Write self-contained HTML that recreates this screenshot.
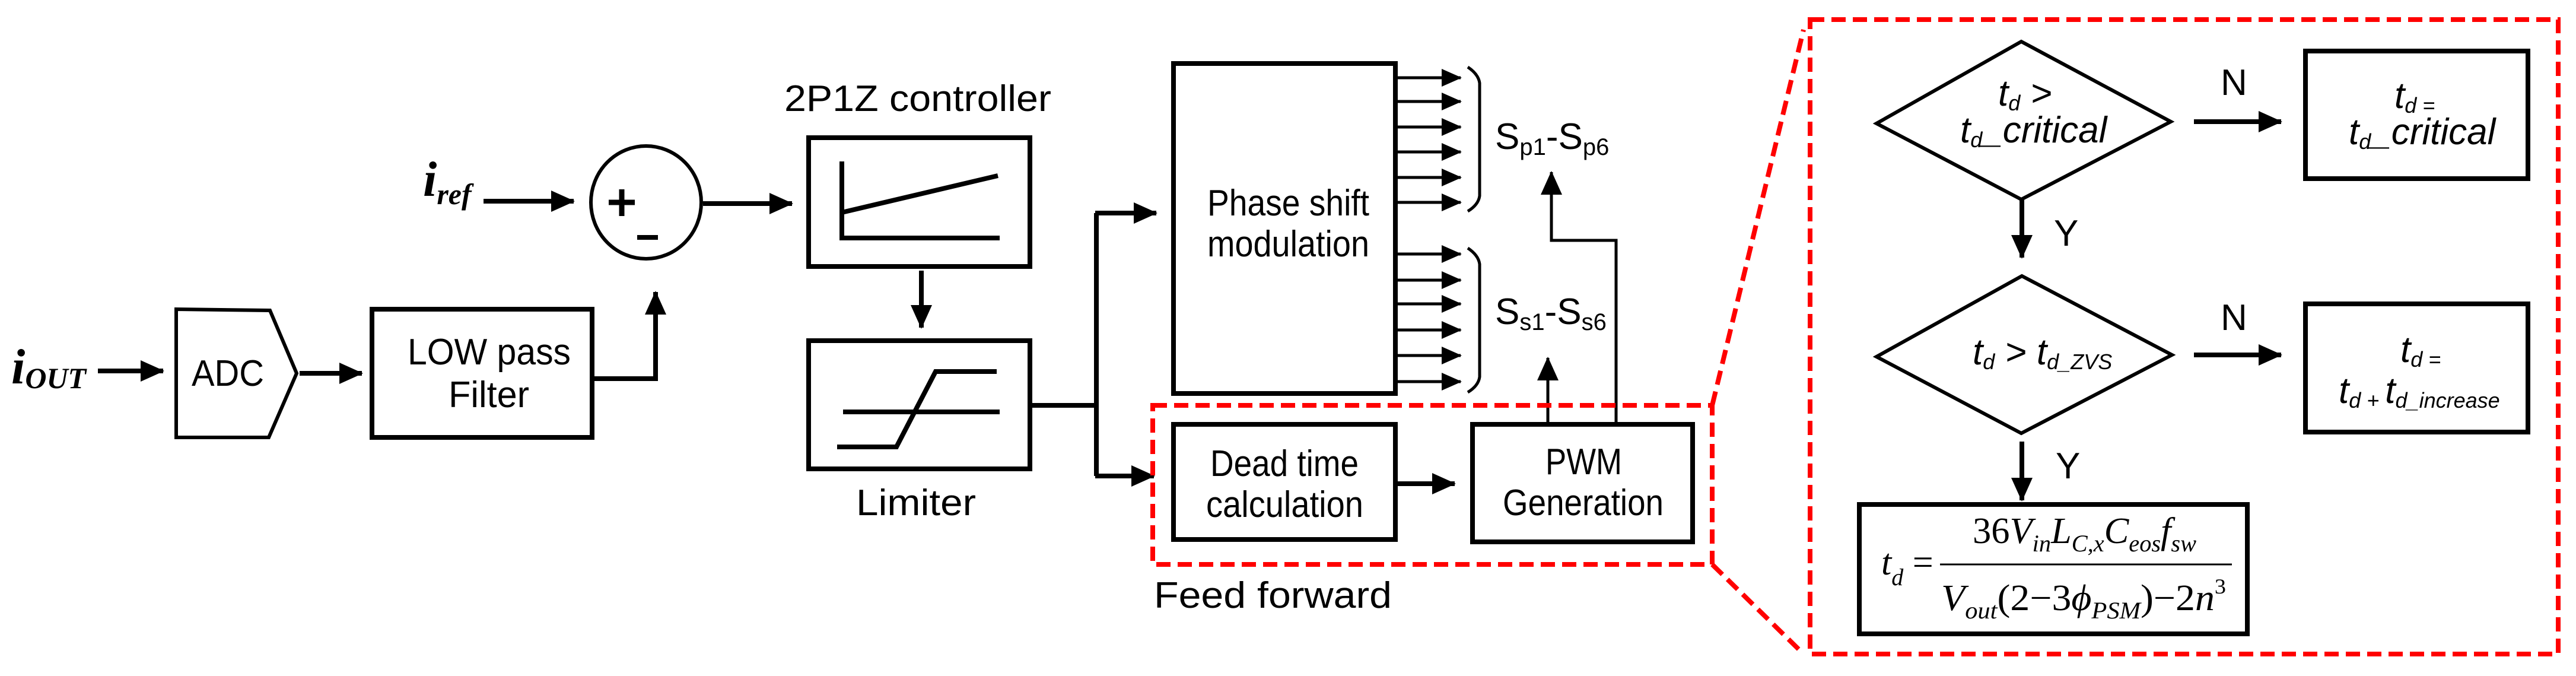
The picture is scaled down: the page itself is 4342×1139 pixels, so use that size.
<!DOCTYPE html>
<html><head><meta charset="utf-8"><style>
html,body{margin:0;padding:0;background:#fff}
svg{display:block}
.s{font-family:"Liberation Sans",sans-serif;font-size:62px;fill:#000}
.m{font-family:"Liberation Serif",serif;font-style:italic;fill:#000}
</style></head><body>
<svg width="4342" height="1139" viewBox="0 0 4342 1139" xmlns="http://www.w3.org/2000/svg">
<defs>
<marker id="a" markerUnits="userSpaceOnUse" markerWidth="40" markerHeight="36" refX="38" refY="18" orient="auto">
<polygon points="0,0 40,18 0,36" fill="#000"/></marker>
<marker id="b" markerUnits="userSpaceOnUse" markerWidth="34" markerHeight="30" refX="32" refY="15" orient="auto">
<polygon points="0,0 34,15 0,30" fill="#000"/></marker>
</defs>
<g stroke="#000" stroke-width="8" fill="none">
<line x1="165" y1="625" x2="275" y2="625" marker-end="url(#a)"/>
<polygon points="297,521 455,523 500,629 453,737 297,737" stroke-width="6"/>
<line x1="505" y1="629" x2="610" y2="629" marker-end="url(#a)"/>
<rect x="627" y="521" width="371" height="216"/>
<polyline points="998,638 1105,638 1105,492" marker-end="url(#a)"/>
<ellipse cx="1089" cy="341" rx="93" ry="95" stroke-width="6"/>
<line x1="815" y1="339" x2="967" y2="339" marker-end="url(#a)"/>
<line x1="1185" y1="343" x2="1335" y2="343" marker-end="url(#a)"/>
<line x1="1026" y1="341" x2="1070" y2="341" stroke-width="9"/>
<line x1="1048" y1="319" x2="1048" y2="364" stroke-width="9"/>
<line x1="1074" y1="400" x2="1109" y2="400" stroke-width="8"/>
<rect x="1363" y="232" width="373" height="217"/>
<polyline points="1419,272 1419,401 1685,401"/>
<line x1="1419" y1="358" x2="1682" y2="296"/>
<line x1="1553" y1="456" x2="1553" y2="552" marker-end="url(#a)"/>
<rect x="1363" y="574" width="373" height="216"/>
<line x1="1421" y1="694" x2="1685" y2="694"/>
<polyline points="1411,753 1511,753 1577,626 1680,626"/>
<line x1="1736" y1="683" x2="1848" y2="683"/>
<line x1="1848" y1="359" x2="1848" y2="802"/>
<line x1="1846" y1="359" x2="1949" y2="359" marker-end="url(#a)"/>
<line x1="1846" y1="802" x2="1945" y2="802" marker-end="url(#a)"/>
<rect x="1978" y="107" width="374" height="556"/>
<g stroke-width="5">
<line x1="2352" y1="131" x2="2462" y2="131" marker-end="url(#b)"/>
<line x1="2352" y1="171" x2="2462" y2="171" marker-end="url(#b)"/>
<line x1="2352" y1="214" x2="2462" y2="214" marker-end="url(#b)"/>
<line x1="2352" y1="256" x2="2462" y2="256" marker-end="url(#b)"/>
<line x1="2352" y1="299" x2="2462" y2="299" marker-end="url(#b)"/>
<line x1="2352" y1="341" x2="2462" y2="341" marker-end="url(#b)"/>
<line x1="2352" y1="428" x2="2462" y2="428" marker-end="url(#b)"/>
<line x1="2352" y1="472" x2="2462" y2="472" marker-end="url(#b)"/>
<line x1="2352" y1="512" x2="2462" y2="512" marker-end="url(#b)"/>
<line x1="2352" y1="556" x2="2462" y2="556" marker-end="url(#b)"/>
<line x1="2352" y1="599" x2="2462" y2="599" marker-end="url(#b)"/>
<line x1="2352" y1="643" x2="2462" y2="643" marker-end="url(#b)"/>
<path d="M2474,113 Q2492,125 2494,140 L2494,330 Q2492,345 2474,356"/>
<path d="M2474,418 Q2492,430 2494,445 L2494,635 Q2492,650 2474,661"/>
<line x1="2609" y1="715" x2="2609" y2="603" marker-end="url(#a)"/>
<polyline points="2724,715 2724,405 2615,405 2615,290" marker-end="url(#a)"/>
</g>
<rect x="1978" y="715" width="374" height="194"/>
<line x1="2352" y1="815" x2="2452" y2="815" marker-end="url(#a)"/>
<rect x="2482" y="715" width="371" height="198"/>
<g stroke-width="6">
<polygon points="3163,208 3407,70 3659,205 3407,336"/>
<polygon points="3163,601 3408,465 3661,598 3407,730"/>
</g>
<line x1="3698" y1="205" x2="3845" y2="205" marker-end="url(#a)"/>
<line x1="3698" y1="598" x2="3845" y2="598" marker-end="url(#a)"/>
<line x1="3408" y1="336" x2="3408" y2="434" marker-end="url(#a)"/>
<line x1="3408" y1="744" x2="3408" y2="843" marker-end="url(#a)"/>
<rect x="3886" y="86" width="375" height="215"/>
<rect x="3886" y="512" width="375" height="216"/>
<rect x="3134" y="850" width="654" height="218"/>
<line x1="3270" y1="951" x2="3762" y2="951" stroke-width="3"/>
</g>
<g stroke="#f00" stroke-width="8" fill="none" stroke-dasharray="24,12">
<rect x="1943" y="683" width="943" height="268"/>
<rect x="3051" y="33" width="1261" height="1069"/>
<line x1="2886" y1="683" x2="3040" y2="50"/>
<line x1="2886" y1="951" x2="3040" y2="1102"/>
</g>
<text class="m" x="19" y="646" font-size="84" font-weight="bold">i<tspan font-size="50" dy="8">OUT</tspan></text>
<text class="m" x="713" y="330" font-size="84" font-weight="bold">i<tspan font-size="50" dy="14">ref</tspan></text>
<text class="s" x="323" y="650" textLength="122" lengthAdjust="spacingAndGlyphs">ADC</text>
<text class="s" x="687" y="614" textLength="275" lengthAdjust="spacingAndGlyphs">LOW pass</text>
<text class="s" x="756" y="686" textLength="136" lengthAdjust="spacingAndGlyphs">Filter</text>
<text class="s" x="1322" y="187" textLength="450" lengthAdjust="spacingAndGlyphs">2P1Z controller</text>
<text class="s" x="1443" y="868" textLength="202" lengthAdjust="spacingAndGlyphs">Limiter</text>
<text class="s" x="2035" y="363" textLength="273" lengthAdjust="spacingAndGlyphs">Phase shift</text>
<text class="s" x="2035" y="432" textLength="273" lengthAdjust="spacingAndGlyphs">modulation</text>
<text class="s" x="2040" y="802" textLength="250" lengthAdjust="spacingAndGlyphs">Dead time</text>
<text class="s" x="2033" y="871" textLength="265" lengthAdjust="spacingAndGlyphs">calculation</text>
<text class="s" x="2605" y="799" textLength="129" lengthAdjust="spacingAndGlyphs">PWM</text>
<text class="s" x="2533" y="868" textLength="271" lengthAdjust="spacingAndGlyphs">Generation</text>
<text class="s" x="1945" y="1024" font-size="66" textLength="401" lengthAdjust="spacingAndGlyphs">Feed forward</text>
<text class="s" x="2520" y="251" font-size="56">S<tspan font-size="40" dy="10">p1</tspan><tspan dy="-10">-S</tspan><tspan font-size="40" dy="10">p6</tspan></text>
<text class="s" x="2520" y="546" font-size="56">S<tspan font-size="40" dy="10">s1</tspan><tspan dy="-10">-S</tspan><tspan font-size="40" dy="10">s6</tspan></text>
<g class="s" font-style="italic" font-size="54">
<text x="3368" y="178">t<tspan font-size="36" dy="8">d</tspan><tspan dy="-8"> &gt;</tspan></text>
<text x="3304" y="240">t<tspan font-size="36" dy="8">d</tspan><tspan dy="-8">_critical</tspan></text>
<text x="3325" y="614">t<tspan font-size="36" dy="8">d</tspan><tspan dy="-8"> &gt; t</tspan><tspan font-size="36" dy="8">d_ZVS</tspan></text>
<text x="4036" y="182">t<tspan font-size="36" dy="8">d =</tspan></text>
<text x="3959" y="243">t<tspan font-size="36" dy="8">d</tspan><tspan dy="-8">_critical</tspan></text>
<text x="4046" y="610">t<tspan font-size="36" dy="8">d =</tspan></text>
<text x="3942" y="679">t<tspan font-size="36" dy="8">d + </tspan><tspan dy="-8">t</tspan><tspan font-size="36" dy="8">d_increase</tspan></text>
</g>
<text class="s" x="3743" y="160" font-size="58">N</text>
<text class="s" x="3743" y="556" font-size="58">N</text>
<text class="s" x="3462" y="414" font-size="58">Y</text>
<text class="s" x="3465" y="806" font-size="58">Y</text>
<text class="m" x="3171" y="968" font-size="62">t<tspan font-size="40" dy="18">d</tspan><tspan font-style="normal" dy="-18"> =</tspan></text>
<text class="m" x="3325" y="915" font-size="62" textLength="377" lengthAdjust="spacingAndGlyphs"><tspan font-style="normal">36</tspan>V<tspan font-size="40" dy="14">in</tspan><tspan dy="-14">L</tspan><tspan font-size="40" dy="14">C,x</tspan><tspan dy="-14">C</tspan><tspan font-size="40" dy="14">eos</tspan><tspan dy="-14">f</tspan><tspan font-size="40" dy="14">sw</tspan></text>
<text class="m" x="3272" y="1028" font-size="62" textLength="480" lengthAdjust="spacingAndGlyphs">V<tspan font-size="40" dy="14">out</tspan><tspan font-style="normal" dy="-14">(2−3</tspan>ϕ<tspan font-size="40" dy="14">PSM</tspan><tspan font-style="normal" dy="-14">)−2</tspan>n<tspan font-size="36" dy="-28" font-style="normal">3</tspan></text>
</svg>
</body></html>
